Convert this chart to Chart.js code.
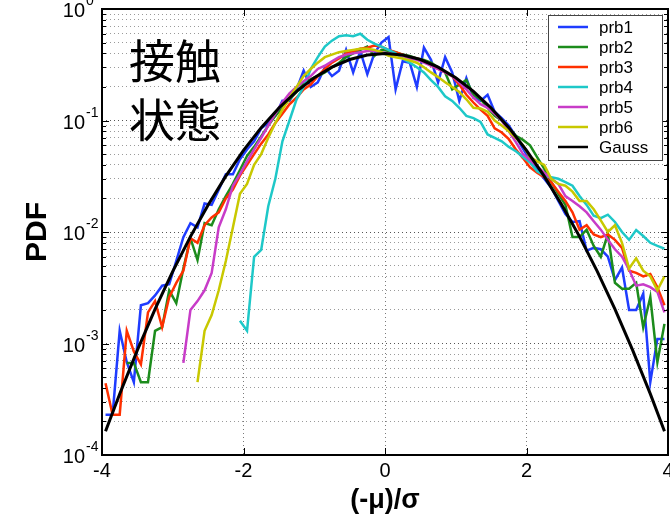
<!DOCTYPE html>
<html>
<head>
<meta charset="utf-8">
<script src="https://cdn.jsdelivr.net/npm/chart.js@4.4.1/dist/chart.umd.min.js"></script>
<style>html,body{margin:0;padding:0;background:#fff;}canvas{display:block;}</style>
</head>
<body>
<canvas id="c" width="670" height="517"></canvas>
<script>
// ---------------- data ----------------
const xBins = [
 -3.95,-3.85,-3.75,-3.65,-3.55,-3.45,-3.35,-3.25,-3.15,-3.05,
 -2.95,-2.85,-2.75,-2.65,-2.55,-2.45,-2.35,-2.25,-2.15,-2.05,
 -1.95,-1.85,-1.75,-1.65,-1.55,-1.45,-1.35,-1.25,-1.15,-1.05,
 -0.95,-0.85,-0.75,-0.65,-0.55,-0.45,-0.35,-0.25,-0.15,-0.05,
  0.05, 0.15, 0.25, 0.35, 0.45, 0.55, 0.65, 0.75, 0.85, 0.95,
  1.05, 1.15, 1.25, 1.35, 1.45, 1.55, 1.65, 1.75, 1.85, 1.95,
  2.05, 2.15, 2.25, 2.35, 2.45, 2.55, 2.65, 2.75, 2.85, 2.95,
  3.05, 3.15, 3.25, 3.35, 3.45, 3.55, 3.65, 3.75, 3.85, 3.95];

const prb1 = [
 2.3e-4,2.3e-4,1.3e-3,6.8e-4,4.5e-4,2.2e-3,2.3e-3,2.7e-3,3.3e-3,3.4e-3,
 5.5e-3,9e-3,1.2e-2,1.1e-2,1.8e-2,1.75e-2,2.4e-2,3.3e-2,3.3e-2,4.5e-2,
 0.055,0.065,0.085,0.095,0.11,0.15,0.15,0.19,0.28,0.2,
 0.22,0.3,0.25,0.28,0.43,0.27,0.42,0.26,0.4,0.5,
 0.56,0.19,0.34,0.33,0.2,0.45,0.35,0.22,0.37,0.27,
 0.15,0.24,0.16,0.15,0.17,0.12,0.105,0.09,0.072,0.056,
 0.044,0.036,0.03,0.025,0.019,0.0145,0.0123,0.0125,6.8e-3,7.2e-3,
 7.0e-3,6.0e-3,3.7e-3,4.8e-3,2.0e-3,2.0e-3,2.8e-3,4.5e-4,1.1e-3,1.1e-3];

const prb2 = [
 null,null,null,6.7e-4,6.7e-4,4.5e-4,4.5e-4,1.3e-3,1.4e-3,3.0e-3,
 2.3e-3,4.7e-3,8.8e-3,5.6e-3,1.2e-2,1.15e-2,1.6e-2,2.1e-2,2.7e-2,3.6e-2,
 0.048,0.058,0.072,0.09,0.11,0.13,0.155,0.18,0.215,0.235,
 0.25,0.27,0.3,0.33,0.37,0.4,0.43,0.46,0.38,0.43,
 0.42,0.41,0.39,0.38,0.36,0.35,0.33,0.3,0.27,0.19,
 0.21,0.23,0.17,0.155,0.13,0.11,0.1,0.085,0.073,0.067,
 0.06,0.047,0.037,0.028,0.022,0.0175,9e-3,9e-3,1.05e-2,7.5e-3,
 6e-3,9.6e-3,3.5e-3,3.1e-3,3.1e-3,3.5e-3,1.4e-3,2.6e-3,6.8e-4,1.5e-3];

const prb3 = [
 4.4e-4,2.3e-4,2.3e-4,1.3e-3,8.5e-4,6.5e-4,1.9e-3,2.4e-3,1.4e-3,2.6e-3,
 3.5e-3,4.5e-3,8.8e-3,8e-3,1.15e-2,1.35e-2,1.5e-2,2.0e-2,2.4e-2,3.2e-2,
 0.04,0.05,0.062,0.075,0.095,0.115,0.14,0.16,0.19,0.21,
 0.25,0.29,0.33,0.36,0.4,0.42,0.44,0.45,0.47,0.46,
 0.43,0.41,0.39,0.37,0.36,0.34,0.31,0.29,0.27,0.25,
 0.21,0.17,0.145,0.125,0.11,0.085,0.078,0.068,0.055,0.046,
 0.038,0.034,0.031,0.028,0.023,0.019,0.015,0.0105,0.0115,9.5e-3,
 9e-3,9.5e-3,8.5e-3,7.2e-3,4.5e-3,4.3e-3,4.0e-3,4.2e-3,3.2e-3,2.2e-3];

const prb4 = [
 null,null,null,null,null,null,null,null,null,null,
 null,null,null,null,null,null,null,null,null,1.6e-3,
 1.3e-3,6.0e-3,6.9e-3,1.7e-2,3.0e-2,6.5e-2,0.1,0.155,0.2,0.29,
 0.37,0.46,0.52,0.57,0.58,0.57,0.6,0.53,0.49,0.46,
 0.43,0.4,0.36,0.33,0.3,0.27,0.23,0.2,0.165,0.15,
 0.13,0.11,0.105,0.097,0.075,0.07,0.065,0.058,0.053,0.047,
 0.042,0.035,0.032,0.031,0.03,0.028,0.026,0.021,0.0175,0.014,
 0.0133,0.0143,0.0123,0.01,8.5e-3,0.0104,9.2e-3,8e-3,7.5e-3,7.1e-3];

const prb5 = [
 null,null,null,null,null,null,null,null,null,null,
 null,6.7e-4,2.0e-3,2.4e-3,3.0e-3,4.3e-3,1.1e-2,1.6e-2,2.6e-2,3.3e-2,
 0.043,0.055,0.07,0.09,0.115,0.145,0.175,0.2,0.225,0.25,
 0.29,0.31,0.34,0.37,0.39,0.40,0.41,0.42,0.42,0.41,
 0.40,0.39,0.38,0.36,0.35,0.33,0.31,0.29,0.27,0.25,
 0.22,0.19,0.16,0.14,0.13,0.115,0.1,0.08,0.064,0.05,
 0.044,0.039,0.034,0.03,0.027,0.021,0.019,0.017,0.015,0.0125,
 0.0105,8.5e-3,7e-3,6.0e-3,4.6e-3,3.3e-3,3.4e-3,3.2e-3,2.9e-3,1.9e-3];

const prb6 = [
 null,null,null,null,null,null,null,null,null,null,
 null,null,null,4.5e-4,1.3e-3,1.8e-3,3.0e-3,5.5e-3,1.1e-2,2.2e-2,
 0.027,0.04,0.05,0.07,0.095,0.125,0.16,0.2,0.25,0.29,
 0.33,0.37,0.39,0.41,0.42,0.43,0.44,0.44,0.43,0.41,
 0.38,0.37,0.36,0.345,0.33,0.3,0.27,0.245,0.22,0.2,
 0.18,0.155,0.13,0.128,0.12,0.1,0.09,0.08,0.07,0.06,
 0.047,0.043,0.04,0.03,0.027,0.026,0.023,0.019,0.019,0.016,
 0.0127,0.01,0.0115,8e-3,4.7e-3,5.8e-3,4.5e-3,4e-3,3e-3,4e-3];

const gaussX = [-3.95,-3.75,-3.5,-3.25,-3,-2.75,-2.5,-2.25,-2,-1.75,-1.5,-1.25,-1,-0.75,-0.5,-0.25,
  0,0.25,0.5,0.75,1,1.25,1.5,1.75,2,2.25,2.5,2.75,3,3.25,3.5,3.75,3.95];
const gaussY = [1.63e-4,3.53e-4,8.73e-4,2.03e-3,4.43e-3,9.09e-3,1.75e-2,3.17e-2,0.054,0.0863,0.1295,0.1826,0.242,0.3011,0.3521,0.3867,
  0.3989,0.3867,0.3521,0.3011,0.242,0.1826,0.1295,0.0863,0.054,3.17e-2,1.75e-2,9.09e-3,4.43e-3,2.03e-3,8.73e-4,3.53e-4,1.63e-4];

const seriesLabels = ['prb1','prb2','prb3','prb4','prb5','prb6','Gauss'];
const seriesColors = ['#1f3cff','#1c8c1c','#ff3000','#1ec8c8','#c83cc8','#c8c800','#000000'];
const xTickValues = [-4,-2,0,2,4];
const yDecades = [1e-4,1e-3,1e-2,1e-1,1];
const yExponents = ['-4','-3','-2','-1','0'];
const noteLines = ['接触','状態'];
const xTitle = '(-\u03bc)/\u03c3';
const yTitle = 'PDF';

// ---------------- chart ----------------
const FONT = '"Liberation Sans", Arial, sans-serif';
function pts(xs, ys){ const o=[]; xs.forEach((x,i)=>{ if(ys[i]!==null && ys[i]!==undefined) o.push({x:x,y:ys[i]}); }); return o; }
function isDecade(v){ const l=Math.log10(v); return Math.abs(l-Math.round(l))<1e-6; }

const seriesData = [prb1,prb2,prb3,prb4,prb5,prb6];
const datasets = seriesData.map((ys,i)=>({
  label: seriesLabels[i], data: pts(xBins, ys), borderColor: seriesColors[i],
  borderWidth: 2.5, pointRadius: 0, tension: 0, fill:false, order: 7-i
}));
datasets.push({label: seriesLabels[6], data: pts(gaussX, gaussY), borderColor: seriesColors[6],
  borderWidth: 3, pointRadius: 0, tension: 0, fill:false, order: 0});

const decor = {
  id: 'decor',
  afterDraw(chart){
    const {ctx, chartArea:a, scales:{x,y}} = chart;
    ctx.save();
    const seg=(x1,y1,x2,y2)=>{ctx.beginPath();ctx.moveTo(x1,y1);ctx.lineTo(x2,y2);ctx.stroke();};
    ctx.strokeStyle='#000'; ctx.lineWidth=1;
    y.ticks.forEach(t=>{
      const py=Math.round(y.getPixelForValue(t.value))+0.5;
      const len=isDecade(t.value)?7:4;
      seg(a.left,py,a.left+len,py); seg(a.right,py,a.right-len,py);
    });
    xTickValues.forEach(v=>{
      const px=Math.round(x.getPixelForValue(v))+0.5;
      seg(px,a.bottom,px,a.bottom-7); seg(px,a.top,px,a.top+7);
    });
    ctx.lineWidth=2;
    ctx.strokeRect(a.left,a.top,a.right-a.left,a.bottom-a.top);
    // y labels with superscripts
    ctx.fillStyle='#000';
    yDecades.forEach((d,i)=>{
      const py=y.getPixelForValue(d);
      ctx.font='20px '+FONT; ctx.textAlign='right'; ctx.textBaseline='alphabetic';
      ctx.fillText('10',85,py+8);
      ctx.font='14px '+FONT; ctx.textAlign='left';
      ctx.fillText(yExponents[i],86,py-4);
    });
    // annotation
    ctx.font='46px "Noto Sans CJK JP"'; ctx.textAlign='left'; ctx.textBaseline='middle';
    noteLines.forEach((s,i)=>ctx.fillText(s,129,61+i*59));
    // legend
    const lx=548, ly=15, lw=114, lh=145;
    ctx.fillStyle='#fff'; ctx.fillRect(lx,ly,lw,lh);
    ctx.strokeStyle='#444'; ctx.lineWidth=1; ctx.strokeRect(lx+0.5,ly+0.5,lw,lh);
    ctx.font='17px '+FONT; ctx.textBaseline='middle';
    seriesLabels.forEach((s,i)=>{
      const ry=27+20*i;
      ctx.strokeStyle=seriesColors[i]; ctx.lineWidth=2.5;
      seg(558,ry,588,ry);
      ctx.fillStyle='#000'; ctx.fillText(s,599,ry+1);
    });
    ctx.restore();
  }
};

new Chart(document.getElementById('c'), {
  type: 'line',
  data: { datasets },
  options: {
    responsive: false, animation: false,
    layout: { padding: { top: 9, right: 2, left: 0, bottom: 0 } },
    plugins: { legend: { display: false }, tooltip: { enabled: false } },
    scales: {
      x: {
        type: 'linear', min: -4, max: 4,
        afterBuildTicks: s => { s.ticks = xTickValues.map(v=>({value:v})); },
        ticks: { font: { family: FONT, size: 20 }, color: '#000', padding: 4, maxRotation: 0, autoSkip: false },
        grid: { color: '#7a7a7a', lineWidth: 1, drawTicks: false },
        border: { display: false, dash: [1,3] },
        title: { display: true, text: xTitle, color: '#000', font: { family: FONT, size: 27, weight: 'bold' }, padding: { top: 0, bottom: 0 } },
        afterFit: s => { s.height = 62; s.paddingLeft = 0; s.paddingRight = 0; }
      },
      y: {
        type: 'logarithmic', min: 1e-4, max: 1,
        afterBuildTicks: s => {
          const t=[];
          yDecades.forEach((d,i)=>{ if(i<yDecades.length-1){ for(let m=1;m<10;m++) t.push({value:d*m}); } else t.push({value:d}); });
          s.ticks=t;
        },
        ticks: { callback: () => '', autoSkip: false },
        grid: { color: c => (c.tick && isDecade(c.tick.value)) ? '#555' : '#9a9a9a', lineWidth: 1, drawTicks: false },
        border: { display: false, dash: [1,3] },
        title: { display: true, text: yTitle, color: '#000', font: { family: FONT, size: 30, weight: 'bold' }, padding: { top: 20, bottom: 0 } },
        afterFit: s => { s.width = 102; s.paddingTop = 0; s.paddingBottom = 0; }
      }
    }
  },
  plugins: [decor]
});
</script>
</body>
</html>
